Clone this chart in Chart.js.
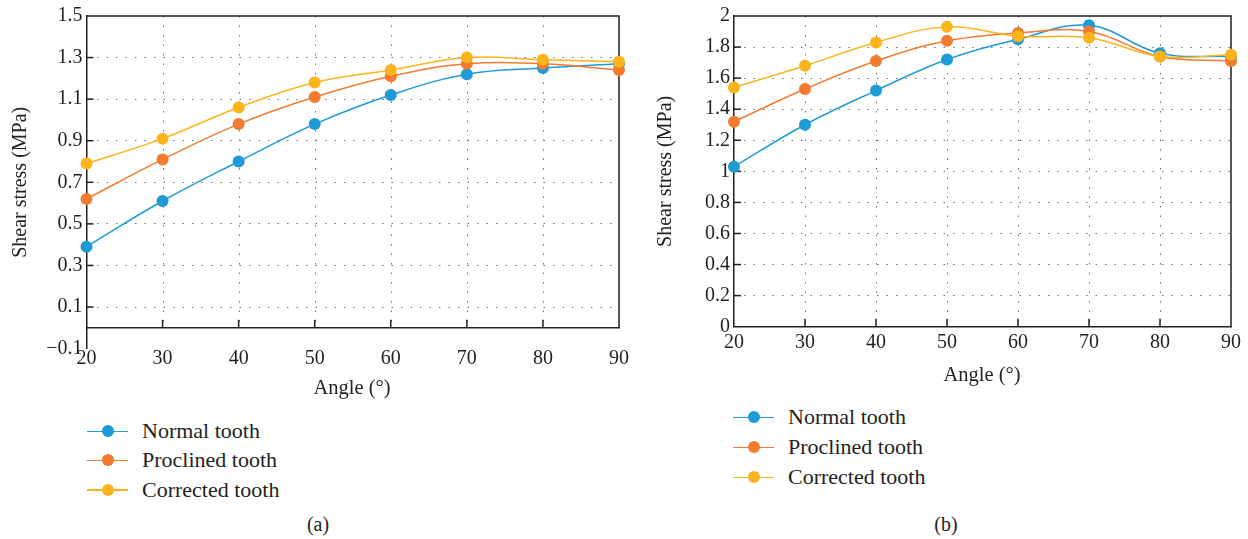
<!DOCTYPE html>
<html>
<head>
<meta charset="utf-8">
<script src="https://cdn.jsdelivr.net/npm/chart.js@4.4.1/dist/chart.umd.min.js"></script>
<style>
  body { margin: 0; background: #fff; width: 1248px; height: 539px; position: relative; overflow: hidden;
         font-family: "Liberation Serif", serif; color: #231f20; }
  .box { position: absolute; top: 0; height: 400px; }
  .lbl { position: absolute; font-size: 20.5px; white-space: nowrap; transform: translate(-50%, -50%); }
  .leg { position: absolute; font-size: 22px; }
  .row { position: absolute; left: 0; height: 30px; display: flex; align-items: center; white-space: nowrap; }
  .sw { position: relative; width: 41px; height: 30px; flex: none; }
  .sw i { position: absolute; left: 0; right: 0; top: 14.5px; height: 1.5px; }
  .sw b { position: absolute; width: 12px; height: 12px; border-radius: 50%; left: 14.5px; top: 9px; }
</style>
</head>
<body>
<div class="box" style="left:0;width:648px"><canvas id="chartA"></canvas></div>
<div class="box" style="left:640px;width:608px"><canvas id="chartB"></canvas></div>
<div class="lbl" style="left:352px;top:387px">Angle (°)</div>
<div class="lbl" style="left:982px;top:374px">Angle (°)</div>
<div class="leg" id="legA" style="left:87px;top:416px"></div>
<div class="leg" id="legB" style="left:733px;top:402px"></div>
<div class="lbl" style="left:318px;top:524px;font-size:20px">(a)</div>
<div class="lbl" style="left:946px;top:524px;font-size:20px">(b)</div>

<script>
const angles = [20, 30, 40, 50, 60, 70, 80, 90];
const seriesNames = ['Normal tooth', 'Proclined tooth', 'Corrected tooth'];
const seriesColors = ['#1e9bd7', '#f27b2f', '#fcb41c'];

// (a)
const normalA = [0.39, 0.61, 0.80, 0.98, 1.12, 1.22, 1.25, 1.27];
const proclinedA = [0.62, 0.81, 0.98, 1.11, 1.21, 1.27, 1.27, 1.24];
const correctedA = [0.79, 0.91, 1.06, 1.18, 1.24, 1.30, 1.29, 1.28];
const yTicksA = [-0.1, 0.1, 0.3, 0.5, 0.7, 0.9, 1.1, 1.3, 1.5];

// (b)
const normalB = [1.03, 1.30, 1.52, 1.72, 1.85, 1.94, 1.76, 1.74];
const proclinedB = [1.32, 1.53, 1.71, 1.84, 1.89, 1.90, 1.74, 1.71];
const correctedB = [1.54, 1.68, 1.83, 1.93, 1.87, 1.86, 1.74, 1.75];
const yTicksB = [0, 0.2, 0.4, 0.6, 0.8, 1, 1.2, 1.4, 1.6, 1.8, 2];

const axisColor = '#231f20';
const gridColor = '#6d6e71';
const serif = 'Liberation Serif';

function fmt(v) {
    return String(Math.round(v * 10) / 10).replace('-', '\u2212');
}

// dotted vertical grid, inner tick marks and the top/right frame
const frame = {
    id: 'frame',
    beforeDatasetsDraw(chart) {
        const { ctx, chartArea: a, scales: { x, y } } = chart;
        const y0 = y.getPixelForValue(0);
        ctx.save();
        ctx.lineWidth = 1;
        ctx.strokeStyle = gridColor;
        ctx.setLineDash([1.5, 8]);
        x.ticks.forEach(t => {
            const px = Math.round(x.getPixelForValue(t.value)) + 0.5;
            if (px <= a.left + 2 || px >= a.right - 2) return;
            ctx.beginPath(); ctx.moveTo(px, a.top); ctx.lineTo(px, y0); ctx.stroke();
        });
        ctx.setLineDash([]);
        ctx.strokeStyle = axisColor;
        ctx.lineWidth = 1.5;
        x.ticks.forEach(t => {
            const px = x.getPixelForValue(t.value);
            if (px <= a.left + 2 || px >= a.right - 2) return;
            ctx.beginPath(); ctx.moveTo(px, y0); ctx.lineTo(px, y0 - 8); ctx.stroke();
        });
        y.ticks.forEach(t => {
            const py = y.getPixelForValue(t.value);
            if (py <= a.top + 2 || py >= y0 - 2) return;
            ctx.beginPath(); ctx.moveTo(a.left, py); ctx.lineTo(a.left + 7, py); ctx.stroke();
        });
        ctx.beginPath();
        ctx.moveTo(a.left, a.top);
        ctx.lineTo(a.right, a.top);
        ctx.lineTo(a.right, y0);
        ctx.stroke();
        ctx.restore();
    }
};

function datasets(values) {
    return values.map((vals, i) => ({
        label: seriesNames[i],
        data: angles.map((a, j) => ({ x: a, y: vals[j] })),
        borderColor: seriesColors[i],
        backgroundColor: seriesColors[i],
        borderWidth: 1.5,
        pointRadius: 6,
        pointHoverRadius: 6,
        pointBorderWidth: 0,
        tension: 0.4,
        clip: false,
        order: values.length - i
    }));
}

function makeChart(id, values, yTicks, o) {
    const lo = yTicks[0], hi = yTicks[yTicks.length - 1];
    return new Chart(document.getElementById(id), {
        type: 'line',
        data: { datasets: datasets(values) },
        plugins: [frame],
        options: {
            responsive: true,
            maintainAspectRatio: false,
            animation: false,
            layout: { padding: o.padding },
            plugins: { legend: { display: false }, tooltip: { enabled: false } },
            scales: {
                x: {
                    type: 'linear',
                    position: { y: 0 },
                    min: angles[0],
                    max: angles[angles.length - 1],
                    afterBuildTicks: s => { s.ticks = angles.map(v => ({ value: v })); },
                    grid: { drawOnChartArea: false, drawTicks: false },
                    border: { display: true, color: axisColor, width: 1.5 },
                    ticks: { font: { family: serif, size: 20 }, color: axisColor, padding: o.xPad,
                             maxRotation: 0, autoSkip: false }
                },
                y: {
                    min: lo,
                    max: hi,
                    afterBuildTicks: s => { s.ticks = yTicks.map(v => ({ value: v })); },
                    afterFit: s => { s.width = o.yWidth; },
                    grid: {
                        drawTicks: false,
                        color: c => (c.tick && (c.tick.value === lo || c.tick.value === hi)) ? 'rgba(0,0,0,0)' : gridColor
                    },
                    border: { display: true, color: axisColor, width: 1.5, dash: [1.5, 8] },
                    ticks: { font: { family: serif, size: 20 }, color: axisColor, padding: o.yPad,
                             callback: v => fmt(v) },
                    title: { display: true, text: 'Shear stress (MPa)', font: { family: serif, size: 20 },
                             color: axisColor, padding: 0 }
                }
            }
        }
    });
}

function legend(id, spacing) {
    const el = document.getElementById(id);
    seriesNames.forEach((name, i) => {
        const row = document.createElement('div');
        row.className = 'row';
        row.style.top = (i * spacing) + 'px';
        row.innerHTML = '<span class="sw"><i style="background:' + seriesColors[i] + '"></i><b style="background:' +
            seriesColors[i] + '"></b></span><span style="margin-left:14px">' + name + '</span>';
        el.appendChild(row);
    });
}

makeChart('chartA', [normalA, proclinedA, correctedA], yTicksA,
    { padding: { left: 9, top: 16, right: 29, bottom: 51.4 }, yWidth: 77.5, yPad: 4, xPad: 19 });
makeChart('chartB', [normalB, proclinedB, correctedB], yTicksB,
    { padding: { left: 14, top: 15, right: 17, bottom: 73.3 }, yWidth: 80, yPad: 4, xPad: 4 });

legend('legA', 29.3);
legend('legB', 30);
</script>
</body>
</html>
